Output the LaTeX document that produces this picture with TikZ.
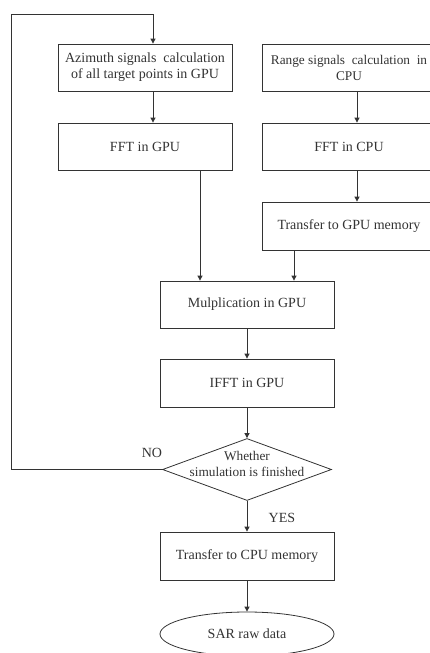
\documentclass[tikz,border=0pt]{standalone}
\usepackage{fontspec}
\setmainfont{Liberation Serif}
\usetikzlibrary{shapes.geometric,arrows.meta}
\begin{document}
\begin{tikzpicture}[x=1pt,y=-1pt,
  every node/.style={text=black!80, font=\fontsize{14}{16}\selectfont},
  box/.style={draw=black!80, line width=0.8pt, minimum width=174pt, inner sep=0pt, align=center},
  dec/.style={draw=black!80, line width=0.8pt, diamond, aspect=2.7, minimum width=169pt, minimum height=62pt, inner sep=0pt},
  term/.style={draw=black!80, line width=0.8pt, ellipse, minimum width=174pt, minimum height=44pt, inner sep=0pt},
  conn/.style={draw=black!80, line width=0.8pt, -{Triangle[length=5pt,width=5pt]}},
  lbl/.style={text=black!80}]
\useasboundingbox (0,0) rectangle (429,653);
\node[box, minimum height=47pt] (az) at (145,67.5) {Azimuth signals\ \ calculation\\of all target points in GPU};
\node[box, minimum height=47pt, font=\fontsize{13.3}{16}\selectfont] (rng) at (349,67.5) {Range signals\ \ calculation\ \ in\\CPU};
\node[box, minimum height=47pt] (fftg) at (145,146.5) {FFT in GPU};
\node[box, minimum height=47pt] (fftc) at (349,146.5) {FFT in CPU};
\node[box, minimum height=48pt] (tgpu) at (349,226) {Transfer to GPU memory};
\node[box, minimum height=47pt] (mul) at (247,304.5) {Mulplication in GPU};
\node[box, minimum height=48pt] (ifft) at (247,383) {IFFT in GPU};
\node[dec] (d) at (247,469.5) {};
\node[align=center, inner sep=0pt, font=\fontsize{13.3}{16.5}\selectfont] (dt) at (247,464) {Whether\\simulation is finished};
\node[box, minimum height=48pt] (tcpu) at (247,556) {Transfer to CPU memory};
\node[term] (sar) at (247,634) {SAR raw data};
\coordinate (lb) at (11,469.5);
\coordinate (lt) at (11,14);
\coordinate (lr) at (153,14);
\draw[conn] ([xshift=8pt]az.south) -- ([xshift=8pt]fftg.north);
\draw[conn] ([xshift=8pt]rng.south) -- ([xshift=8pt]fftc.north);
\draw[conn] ([xshift=8pt]fftc.south) -- ([xshift=8pt]tgpu.north);
\draw[conn] ([xshift=55pt]fftg.south) -- ([xshift=-47pt]mul.north);
\draw[conn] ([xshift=-55pt]tgpu.south) -- ([xshift=47pt]mul.north);
\draw[conn] (mul) -- (ifft);
\draw[conn] (ifft) -- (d);
\draw[conn] (d) -- node[lbl, right, xshift=18pt, yshift=-2pt] {YES} (tcpu);
\draw[conn] (tcpu) -- (sar);
\draw[conn] (d.west) -- (lb) -- (lt) -- (lr) -- ([xshift=8pt]az.north);
\node[lbl] (no) at (152,453) {NO};
\end{tikzpicture}
\end{document}
